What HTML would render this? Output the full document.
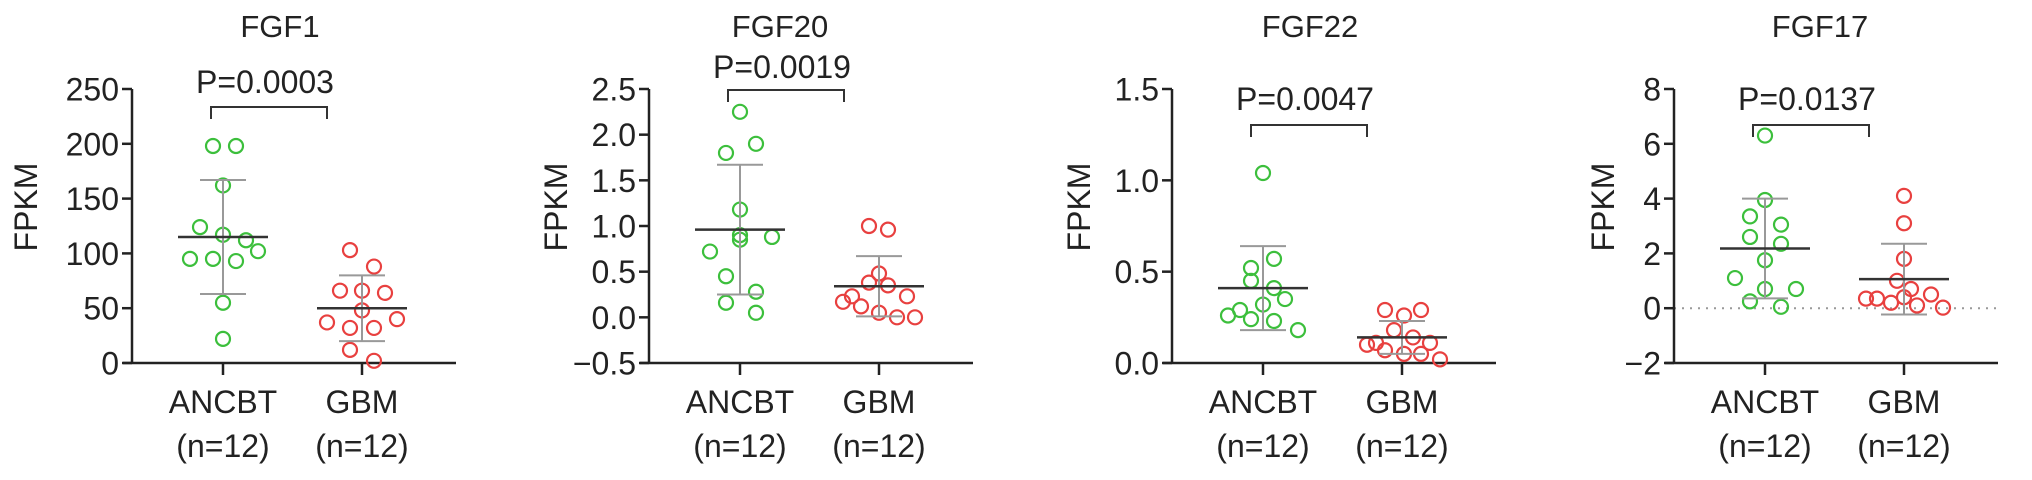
<!DOCTYPE html>
<html><head><meta charset="utf-8"><style>
html,body{margin:0;padding:0;background:#fff;}
svg{display:block;font-family:"Liberation Sans",sans-serif;}
</style></head><body>
<svg id="fig" width="2032" height="480" viewBox="0 0 2032 480" xmlns="http://www.w3.org/2000/svg"></svg>
<script>
const titles=["FGF1","FGF20","FGF22","FGF17"];
const pvalues=["P=0.0003","P=0.0019","P=0.0047","P=0.0137"];
const categories=["ANCBT","GBM"];
const yMins=[0,-0.5,0,-2];
const yMaxs=[250,2.5,1.5,8];
const tickLabels=[["0","50","100","150","200","250"],["−0.5","0.0","0.5","1.0","1.5","2.0","2.5"],["0.0","0.5","1.0","1.5"],["−2","0","2","4","6","8"]];
const tickValues=[[0,50,100,150,200,250],[-0.5,0,0.5,1,1.5,2,2.5],[0,0.5,1,1.5],[-2,0,2,4,6,8]];
const ancbtValues=[
 [198,198,162,124,117,112,102,95,95,93,55,22],
 [2.25,1.8,1.9,1.18,0.9,0.85,0.88,0.72,0.45,0.28,0.16,0.05],
 [1.04,0.57,0.52,0.45,0.41,0.35,0.32,0.29,0.26,0.24,0.23,0.18],
 [6.3,3.95,3.35,3.05,2.6,2.35,1.75,1.1,0.7,0.7,0.25,0.05]];
const gbmValues=[
 [103,88,66,66,64,48,37,40,32,32,12,2],
 [1.0,0.96,0.48,0.38,0.35,0.23,0.23,0.17,0.12,0.05,0,0],
 [0.29,0.26,0.29,0.18,0.14,0.10,0.11,0.11,0.07,0.05,0.05,0.02],
 [4.1,3.1,1.8,1.0,0.7,0.5,0.35,0.35,0.4,0.2,0.1,0.02]];
const ancbtJitter=[
 [-10,13,0,-23,0,23,35,-33,-10,13,0,0],
 [0,-14,16,0,0,0,32,-30,-14,16,-14,16],
 [0,11,-12,-12,11,22,0,-23,-35,-12,11,35],
 [0,0,-15,16,-15,16,0,-30,0,31,-15,16]];
const gbmJitter=[
 [-12,12,-22,0,23,0,-35,35,-12,12,-12,12],
 [-10,9,0,-10,9,-27,28,-36,-18,0,18,36],
 [-17,2,19,-8,11,-35,-26,28,-17,2,19,38],
 [0,0,0,-7,7,27,-38,-27,0,-13,13,39]];
const ancbtMean=[115,0.96,0.41,2.18];
const ancbtSD=[52,0.71,0.23,1.82];
const gbmMean=[50,0.34,0.14,1.06];
const gbmSD=[30,0.33,0.09,1.29];
const axisX=[132,649,1172,1674];
const titleX=[280,780,1310,1820];
const yTitleX=[37,567,1090,1614];
const NS="http://www.w3.org/2000/svg";
const svg=document.getElementById('fig');
function mk(tag,attrs,parent,text){const e=document.createElementNS(NS,tag);for(const k in attrs)e.setAttribute(k,attrs[k]);if(text!==undefined)e.textContent=text;(parent||svg).appendChild(e);return e;}
const TOP=89,BOT=363;
const pY=[93,78,110,110],brY=[107,90,125,125];
titles.forEach((t,i)=>{
 const g=mk('g',{});
 
 
 const ax=axisX[i];
 const c1=ax+91,c2=ax+230;
 const y=v=>BOT-(v-yMins[i])/(yMaxs[i]-yMins[i])*(BOT-TOP);
 let e=mk('text',{x:titleX[i],y:37,'text-anchor':'middle','font-size':31,fill:'#222'},g,t);
 
 e=mk('text',{x:0,y:0,'text-anchor':'middle','font-size':32,fill:'#222',transform:`translate(${yTitleX[i]},207) rotate(-90)`},g,'FPKM');
 
 if(i==3){e=mk('line',{x1:ax,x2:ax+324,y1:y(0),y2:y(0),stroke:'#999','stroke-width':2,'stroke-dasharray':'2 6'},g);
  }
 e=mk('path',{d:`M${ax},${TOP}V${BOT}M${ax-9},${BOT}H${ax+324}`,stroke:'#222','stroke-width':2.5,fill:'none'},g);
 
 tickValues[i].forEach((v,k)=>{
  mk('line',{x1:ax-10,x2:ax,y1:y(v),y2:y(v),stroke:'#222','stroke-width':2.5},g);
  const tl=mk('text',{x:ax-13,y:y(v)+11.5,'text-anchor':'end','font-size':32,fill:'#222'},g,tickLabels[i][k]);
  
 });
 [c1,c2].forEach((c,k)=>{
  mk('line',{x1:c,x2:c,y1:BOT,y2:BOT+12,stroke:'#222','stroke-width':2.5},g);
  let l=mk('text',{x:c,y:413,'text-anchor':'middle','font-size':32,fill:'#222'},g,categories[k]);
  
  l=mk('text',{x:c,y:457,'text-anchor':'middle','font-size':32,fill:'#222'},g,'(n=12)');
  
 });
 e=mk('path',{d:`M${c1-12},${brY[i]+12}V${brY[i]}H${c1+104}V${brY[i]+12}`,stroke:'#333','stroke-width':2,fill:'none'},g);
 
 e=mk('text',{x:c1+42,y:pY[i],'text-anchor':'middle','font-size':32,fill:'#222'},g,pvalues[i]);
 
 const groups=[[c1,ancbtValues[i],ancbtJitter[i],ancbtMean[i],ancbtSD[i],'#3cbf3c','ancbt'],[c2,gbmValues[i],gbmJitter[i],gbmMean[i],gbmSD[i],'#e8403f','gbm']];
 groups.forEach(([c,vals,jit,m,sd,col,nm])=>{
  vals.forEach((v,k)=>{
   const p=mk('circle',{cx:c+jit[k],cy:y(v),r:7,fill:'none',stroke:col,'stroke-width':2.2},g);
   
  });
  const eb=mk('path',{d:`M${c},${y(m+sd)}V${y(m-sd)}M${c-23},${y(m+sd)}H${c+23}M${c-23},${y(m-sd)}H${c+23}`,stroke:'#999','stroke-width':2,fill:'none'},g);
  
  const ml=mk('line',{x1:c-45,x2:c+45,y1:y(m),y2:y(m),stroke:'#333','stroke-width':2.5},g);
  
 });
});
</script>
</body></html>
